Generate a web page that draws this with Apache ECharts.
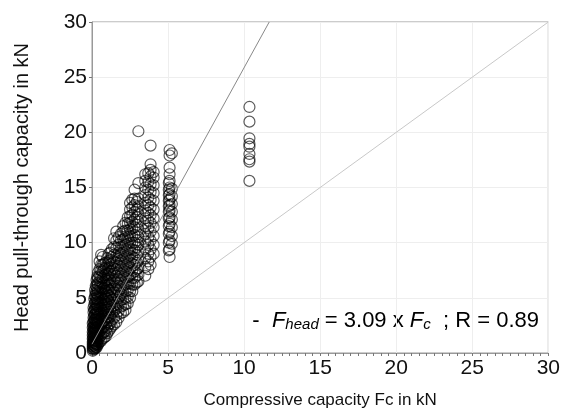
<!DOCTYPE html>
<html>
<head>
<meta charset="utf-8">
<script src="https://cdn.jsdelivr.net/npm/echarts@6/dist/echarts.min.js"></script>
<style>
  html, body { margin: 0; padding: 0; background: #fff; }
  #chart { width: 563px; height: 416px; }
</style>
</head>
<body>
<div id="chart"></div>
<script>
// measured points, grouped by test column (compressive capacity, kN)
const colX = [0.05, 0.1, 0.15, 0.2, 0.25, 0.3, 0.35, 0.4, 0.5, 0.6, 0.7, 0.8, 0.9, 1.0, 1.1, 1.2, 1.3, 1.45, 1.6, 1.75,
  1.9, 2.05, 2.2, 2.35, 2.5, 2.65, 2.8, 2.95, 3.05, 3.5, 3.7, 3.85, 4.05, 5.05, 5.1, 5.25, 10.35]
const colY = [
  [0.2, 0.4, 0.6, 0.8, 1.0, 1.3, 1.6, 1.9, 2.3, 2.7],
  [0.3, 0.5, 0.7, 0.9, 1.1, 1.3, 1.5, 1.8, 2.1, 2.4, 2.8, 3.2, 3.7, 4.1],
  [0.4, 0.7, 1.0, 1.2, 1.5, 1.8, 2.0, 2.3, 2.7, 3.0, 3.4, 3.9, 4.4, 4.9],
  [0.4, 0.6, 0.9, 1.2, 1.5, 1.9, 2.2, 2.6, 3.0, 3.5, 4.0, 4.6, 5.2, 5.7],
  [0.5, 0.8, 1.1, 1.5, 1.9, 2.3, 2.7, 3.1, 3.6, 4.0, 4.5, 5.0, 5.5, 6.1],
  [0.5, 0.8, 1.1, 1.4, 1.8, 2.2, 2.5, 2.9, 3.3, 3.8, 4.3, 4.8, 5.4, 6.0, 6.6],
  [0.7, 1.0, 1.4, 1.7, 2.1, 2.6, 3.0, 3.5, 3.9, 4.4, 4.9, 5.3, 5.8, 6.3, 6.9],
  [0.8, 1.2, 1.6, 2.0, 2.4, 2.8, 3.3, 3.7, 4.2, 4.6, 5.1, 5.6, 6.2, 6.8, 7.3],
  [1.0, 1.5, 2.0, 2.5, 3.0, 3.5, 4.0, 4.5, 5.0, 5.5, 6.0, 6.5, 7.0, 7.6, 8.3],
  [1.1, 1.6, 2.1, 2.6, 3.1, 3.6, 4.0, 4.5, 5.0, 5.4, 5.9, 6.4, 6.9, 7.5, 8.0, 8.9],
  [1.3, 1.8, 2.3, 2.8, 3.3, 3.8, 4.3, 4.8, 5.3, 5.8, 6.3, 6.8, 7.4, 8.0, 8.7],
  [1.4, 1.9, 2.4, 2.9, 3.4, 3.9, 4.4, 4.9, 5.4, 5.9, 6.4, 7.0, 7.6, 8.1],
  [1.5, 2.0, 2.6, 3.1, 3.6, 4.1, 4.6, 5.1, 5.6, 6.1, 6.6, 7.1, 7.7, 8.2],
  [1.8, 2.3, 2.8, 3.3, 3.9, 4.4, 4.9, 5.4, 5.9, 6.5, 7.0, 7.5, 8.0, 8.6],
  [2.0, 2.6, 3.2, 3.7, 4.2, 4.7, 5.2, 5.7, 6.2, 6.7, 7.2, 7.7, 8.3, 9.0],
  [2.2, 2.7, 3.3, 3.9, 4.4, 5.0, 5.5, 6.1, 6.6, 7.2, 7.8, 8.4, 9.1],
  [2.4, 3.0, 3.6, 4.2, 4.8, 5.3, 5.8, 6.4, 7.0, 7.5, 8.1, 8.7, 9.4],
  [2.6, 3.2, 3.8, 4.3, 4.9, 5.5, 6.0, 6.6, 7.2, 7.7, 8.3, 8.9, 9.6, 10.4],
  [2.8, 3.4, 4.0, 4.6, 5.2, 5.8, 6.4, 7.0, 7.6, 8.2, 8.8, 9.5, 10.2, 11.0],
  [3.2, 3.8, 4.4, 5.0, 5.6, 6.1, 6.7, 7.3, 7.9, 8.5, 9.1, 9.8, 10.5],
  [3.6, 4.2, 4.8, 5.4, 6.0, 6.6, 7.2, 7.8, 8.4, 9.0, 9.6, 10.2, 10.8],
  [3.7, 4.3, 4.9, 5.5, 6.1, 6.7, 7.3, 7.9, 8.5, 9.1, 9.7, 10.3, 11.0, 11.5],
  [3.9, 4.4, 5.0, 5.6, 6.2, 6.8, 7.4, 8.0, 8.6, 9.2, 9.8, 10.4, 11.1, 11.8],
  [4.5, 5.1, 5.7, 6.3, 6.9, 7.5, 8.1, 8.7, 9.3, 9.9, 10.5, 11.1, 11.7, 12.3],
  [5.0, 5.6, 6.3, 7.0, 7.6, 8.2, 8.8, 9.4, 10.0, 10.6, 11.2, 11.8, 12.4, 13.0, 13.6],
  [5.6, 6.2, 6.8, 7.5, 8.1, 8.7, 9.4, 10.0, 10.6, 11.3, 11.9, 12.5, 13.2, 13.9],
  [6.2, 6.8, 7.4, 8.0, 8.6, 9.3, 10.0, 10.7, 11.4, 12.1, 12.8, 13.4, 14.0, 14.8],
  [6.4, 7.0, 7.6, 8.2, 8.9, 9.6, 10.2, 10.9, 11.6, 12.3, 13.0, 13.7],
  [6.5, 7.1, 7.7, 8.4, 9.1, 9.8, 10.5, 11.2, 11.9, 12.6, 13.3, 14.0, 15.4, 20.1],
  [7.0, 7.8, 8.6, 9.4, 10.1, 10.8, 11.5, 12.2, 12.9, 13.6, 14.3, 15.0, 15.6, 16.2],
  [7.6, 8.3, 9.0, 9.8, 10.5, 11.3, 12.0, 12.7, 13.4, 14.1, 14.8, 15.5, 16.3],
  [8.0, 8.7, 9.4, 10.2, 11.0, 11.8, 12.5, 13.2, 13.9, 14.6, 15.3, 16.0, 16.6, 17.1, 18.8],
  [9.0, 9.8, 10.6, 11.4, 12.2, 13.0, 13.8, 14.5, 15.2, 15.9, 16.4],
  [9.3, 10.0, 10.8, 11.5, 12.2, 12.8, 13.3, 13.8, 14.3, 14.8, 15.4],
  [8.7, 9.4, 10.2, 11.0, 11.7, 12.3, 12.9, 13.4, 13.9, 14.4, 15.0, 15.6, 16.2, 16.8, 17.9, 18.4],
  [9.9, 10.6, 11.4, 12.1, 12.8, 13.5, 14.2, 14.9, 18.1],
  [15.6, 17.35, 17.56, 18.04, 18.7, 18.95, 19.46, 20.97, 22.3]
]
// fitted line and 1:1 line
const fitLine = [[0, 0.8], [11.65, 30]]
const unityLine = [[0, 0], [30, 30]]
const axisTicks = [0, 5, 10, 15, 20, 25, 30]

const points = []
colX.forEach((x, i) => colY[i].forEach(y => points.push([x, y])))

const chart = echarts.init(document.getElementById('chart'), null, { renderer: 'canvas' })
const fontFamily = 'Liberation Sans, Arial, sans-serif'

chart.setOption({
  animation: false,
  backgroundColor: '#fff',
  grid: { left: 92, right: 14, top: 22, bottom: 63, show: true, borderColor: '#999', borderWidth: 1 },
  xAxis: {
    type: 'value', min: 0, max: 30, interval: 5,
    name: 'Compressive capacity Fc in kN',
    nameLocation: 'middle', nameGap: 39,
    nameTextStyle: { fontFamily, fontSize: 17, color: '#111' },
    axisLine: { show: true, lineStyle: { color: '#999' } },
    axisTick: { show: true, length: 3, lineStyle: { color: '#777' } },
    minorTick: { show: true, splitNumber: 10, length: 3, lineStyle: { color: '#777' } },
    axisLabel: { fontFamily, fontSize: 21, color: '#111', margin: 5, formatter: v => axisTicks.includes(v) ? v : '' },
    splitLine: { show: true, lineStyle: { color: '#eee' } }
  },
  yAxis: {
    type: 'value', min: 0, max: 30, interval: 5,
    name: 'Head pull-through capacity in kN',
    nameLocation: 'middle', nameGap: 60, nameRotate: 90,
    nameTextStyle: { fontFamily, fontSize: 20, color: '#111' },
    axisLine: { show: true, lineStyle: { color: '#999' } },
    axisTick: { show: true, length: 3, lineStyle: { color: '#777' } },
    axisLabel: { fontFamily, fontSize: 21, color: '#111', margin: 5 },
    splitLine: { show: true, lineStyle: { color: '#eee' } }
  },
  series: [
    {
      type: 'line', data: unityLine, symbol: 'none', silent: true,
      lineStyle: { color: '#c8c8c8', width: 1 }, z: 1
    },
    {
      type: 'scatter', data: points, symbol: 'circle', symbolSize: 11,
      itemStyle: { color: 'rgba(0,0,0,0)', borderColor: 'rgba(0,0,0,0.8)', borderWidth: 1.2 }, z: 2
    },
    {
      type: 'line', data: fitLine, symbol: 'none', silent: true,
      lineStyle: { color: '#888', width: 1 }, z: 3
    }
  ],
  graphic: [{
    type: 'text', right: 24, top: 310,
    style: {
      text: '{n|-  }{f|F}{s|head}{n| = 3.09 x }{f|F}{s|c}{n|  ; R = 0.89}',
      rich: {
        n: { fontFamily, fontSize: 22, color: '#111', lineHeight: 28, verticalAlign: 'bottom' },
        f: { fontFamily, fontSize: 22, fontStyle: 'italic', color: '#111', lineHeight: 28, verticalAlign: 'bottom' },
        s: { fontFamily, fontSize: 15, fontStyle: 'italic', color: '#111', lineHeight: 26, verticalAlign: 'bottom' }
      }
    }
  }]
})
</script>
</body>
</html>
